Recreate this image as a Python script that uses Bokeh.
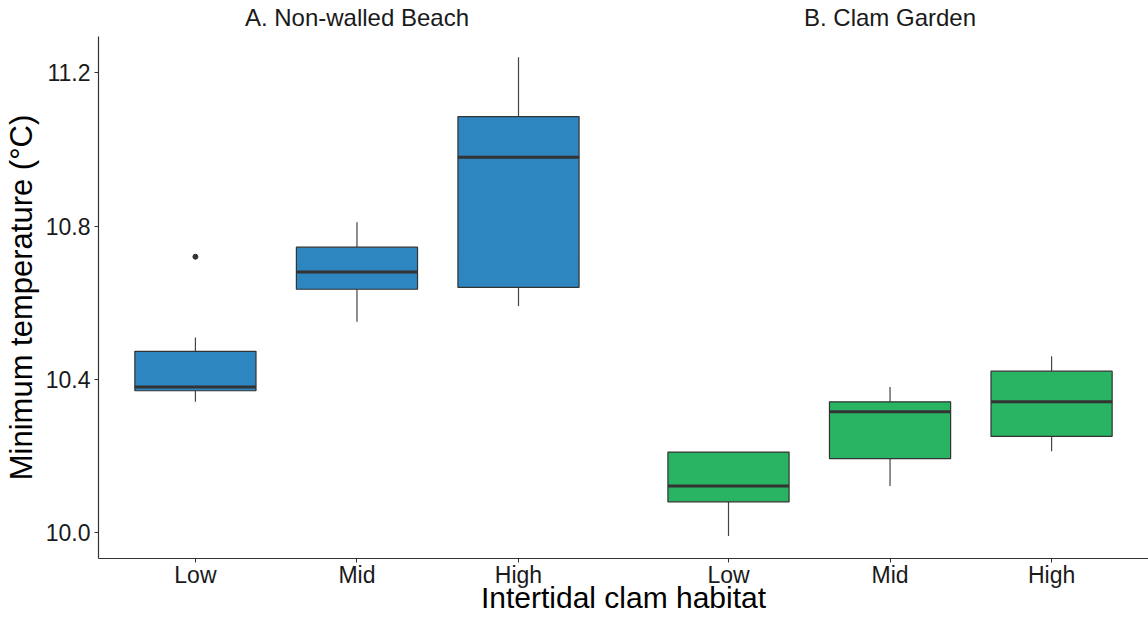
from bokeh.plotting import figure
from bokeh.models import FactorRange, Range1d, FixedTicker, NumeralTickFormatter, CategoricalAxis
from bokeh.embed import file_html
from bokeh.resources import INLINE

habitats = ["Low", "Mid", "High"]
panel_titles = ["A. Non-walled Beach", "B. Clam Garden"]
y_label = "Minimum temperature (°C)"
x_label = "Intertidal clam habitat"

beach_lower = [10.341, 10.550, 10.591]
beach_q1 = [10.370, 10.635, 10.640]
beach_median = [10.380, 10.680, 10.980]
beach_q3 = [10.473, 10.745, 11.086]
beach_upper = [10.509, 10.810, 11.241]
beach_outlier_habitat = ["Low"]
beach_outlier_value = [10.720]

garden_lower = [9.991, 10.121, 10.212]
garden_q1 = [10.080, 10.193, 10.251]
garden_median = [10.121, 10.315, 10.341]
garden_q3 = [10.210, 10.341, 10.421]
garden_upper = [10.210, 10.380, 10.460]

y_ticks = [10.0, 10.4, 10.8, 11.2]

FONT = "Liberation Sans"
DARK = "#333333"
TEXT = "#1a1a1a"
COLORS = ["#2E86C1", "#28B463"]

factors = [(g, h) for g in panel_titles for h in habitats]

p = figure(width=1148, height=617,
           x_range=FactorRange(*factors, factor_padding=0, group_padding=0.3,
                               range_padding=0.1, range_padding_units="absolute"),
           y_range=Range1d(9.932, 11.295),
           output_backend="svg", toolbar_location=None,
           min_border_left=97, min_border_right=0, min_border_top=35, min_border_bottom=59)
p.outline_line_color = None
p.xgrid.visible = False
p.ygrid.visible = False
p.background_fill_color = "white"
p.border_fill_color = "white"

panels = [
    (beach_lower, beach_q1, beach_median, beach_q3, beach_upper, beach_outlier_habitat, beach_outlier_value),
    (garden_lower, garden_q1, garden_median, garden_q3, garden_upper, [], []),
]

for title, color, (lower, q1, med, q3, upper, out_h, out_v) in zip(panel_titles, COLORS, panels):
    xs = [(title, h) for h in habitats]
    p.segment(x0=xs, y0=q3, x1=xs, y1=upper, line_color="#444444", line_width=1.2)
    p.segment(x0=xs, y0=lower, x1=xs, y1=q1, line_color="#444444", line_width=1.2)
    p.vbar(x=xs, width=0.75, bottom=q1, top=q3, fill_color=color,
           line_color=DARK, line_width=1.2)
    p.segment(x0=[(title, h, -0.375) for h in habitats], y0=med,
              x1=[(title, h, 0.375) for h in habitats], y1=med,
              line_color=DARK, line_width=3)
    if out_h:
        p.scatter(x=[(title, h) for h in out_h], y=out_v, size=5,
                  fill_color=DARK, line_color=DARK)

# bottom axis: habitat labels + axis title (group level not drawn)
xa = p.xaxis[0]
xa.axis_line_color = DARK
xa.axis_line_width = 1.2
xa.major_tick_line_color = DARK
xa.major_tick_out = 4
xa.major_tick_in = 0
xa.minor_tick_line_color = None
xa.major_label_text_font = FONT
xa.major_label_text_font_size = "23px"
xa.major_label_text_color = TEXT
xa.major_label_standoff = -1
xa.group_text_font_size = "1px"
xa.group_text_color = None
xa.separator_line_color = None
xa.axis_label = x_label
xa.axis_label_text_font = FONT
xa.axis_label_text_font_size = "30px"
xa.axis_label_text_font_style = "normal"
xa.axis_label_text_color = "black"
xa.axis_label_standoff = -10

# top axis: panel titles (habitat level not drawn)
top = CategoricalAxis(axis_line_color=None, major_tick_line_color=None,
                      minor_tick_line_color=None, major_label_text_font_size="1px",
                      major_label_text_color=None,
                      major_label_standoff=0, separator_line_color=None,
                      group_text_font=FONT, group_text_font_size="24px",
                      group_text_color=TEXT, group_text_font_style="normal")
p.add_layout(top, "above")

ya = p.yaxis[0]
ya.ticker = FixedTicker(ticks=y_ticks)
ya.formatter = NumeralTickFormatter(format="0.0")
ya.axis_line_color = DARK
ya.axis_line_width = 1.2
ya.major_tick_line_color = DARK
ya.major_tick_out = 4
ya.major_tick_in = 0
ya.minor_tick_line_color = None
ya.major_label_text_font = FONT
ya.major_label_text_font_size = "23px"
ya.major_label_text_color = TEXT
ya.major_label_standoff = 4
ya.axis_label = y_label
ya.axis_label_text_font = FONT
ya.axis_label_text_font_size = "31px"
ya.axis_label_text_font_style = "normal"
ya.axis_label_text_color = "black"
ya.axis_label_standoff = 4

with open("out.html", "w") as f:
    f.write(file_html(p, INLINE))
